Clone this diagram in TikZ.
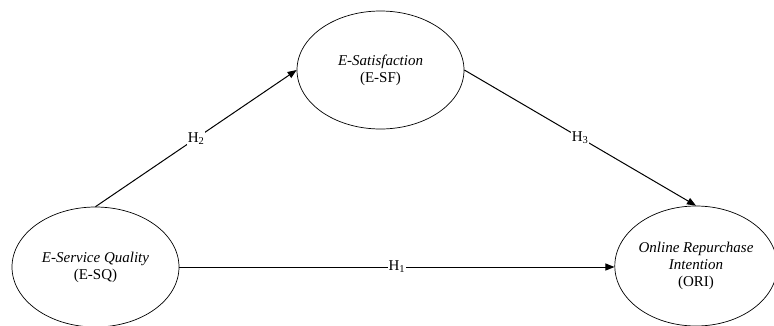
\documentclass[tikz,border=0pt]{standalone}
\usepackage{fontspec}
\setmainfont{Liberation Serif}
\usetikzlibrary{shapes.geometric,arrows.meta}
\begin{document}
\begin{tikzpicture}[x=1pt,y=-1pt,
  construct/.style={ellipse,draw,line width=0.7pt,inner sep=0pt,align=center,font=\fontsize{15}{17}\selectfont},
  path/.style={line width=1pt,-{Triangle[length=9pt,width=7pt]}},
  hyp/.style={fill=white,inner sep=1pt,font=\fontsize{15}{17}\selectfont}]
\useasboundingbox (0,0) rectangle (774,325);
\node[construct,minimum width=167pt,minimum height=120pt] (esq) at (95.5,267) {\textit{E-Service Quality}\\(E-SQ)};
\node[construct,minimum width=167pt,minimum height=118pt] (esf) at (380.5,70) {\textit{E-Satisfaction}\\(E-SF)};
\node[construct,minimum width=154pt,minimum height=120pt] (ori) at (696,266) {\textit{Online Repurchase}\\\textit{Intention}\\(ORI)};
\draw[path] (esq.east |- 0,267) -- node[hyp]{H\textsubscript{1}} (ori.west |- 0,267);
\draw[path] (esq.north) -- node[hyp]{H\textsubscript{2}} (esf.west);
\draw[path] (esf.east) -- node[hyp]{H\textsubscript{3}} (ori.north);
\end{tikzpicture}
\end{document}
